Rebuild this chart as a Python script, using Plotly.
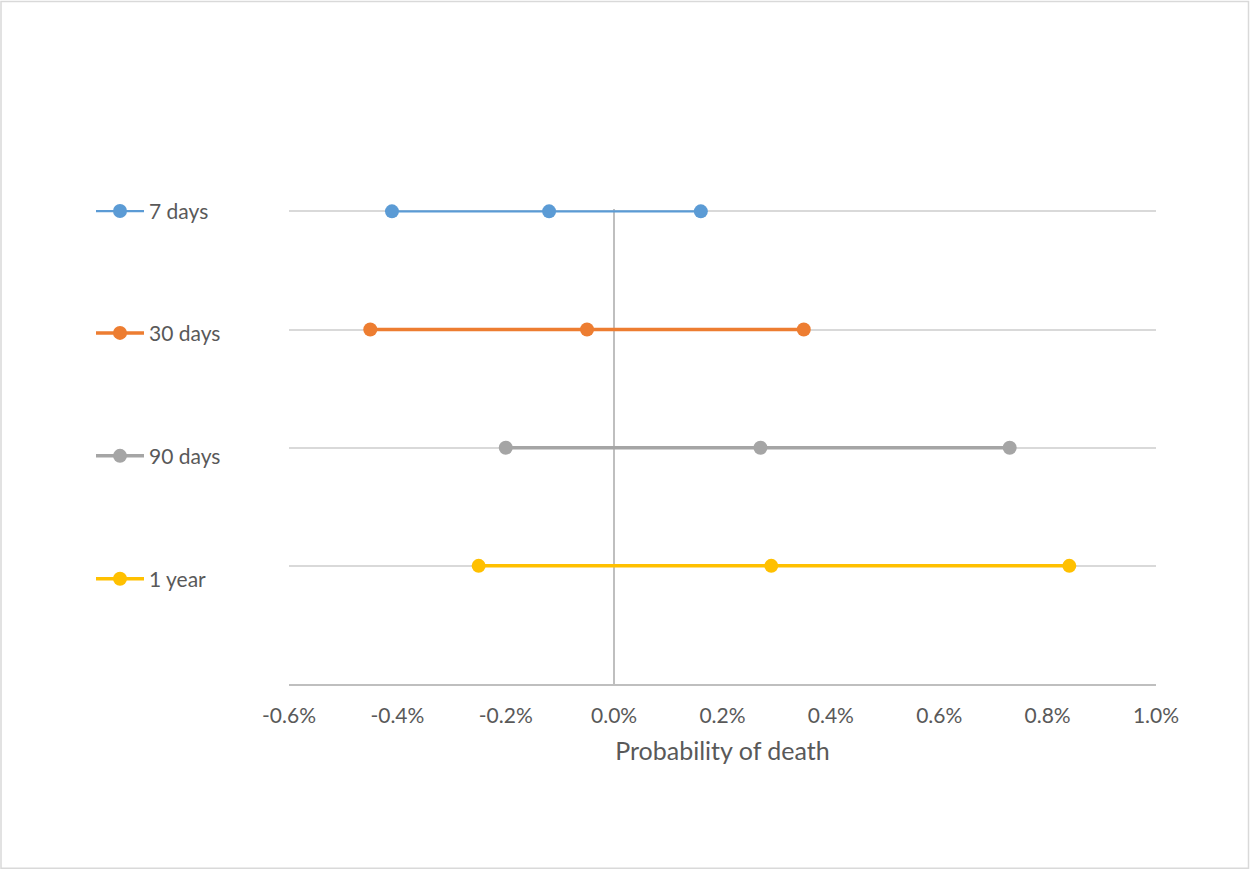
import plotly.graph_objects as go

series_names = ["7 days", "30 days", "90 days", "1 year"]
series_y = [4, 3, 2, 1]
series_x = [
    [-0.41, -0.12, 0.16],
    [-0.45, -0.05, 0.35],
    [-0.20, 0.27, 0.73],
    [-0.25, 0.29, 0.84],
]
colors = ["#5B9BD5", "#ED7D31", "#A5A5A5", "#FFC000"]
line_widths = [2.25, 3.5, 3.5, 3.5]
tick_vals = [-0.6, -0.4, -0.2, 0.0, 0.2, 0.4, 0.6, 0.8, 1.0]
tick_text = ["-0.6%", "-0.4%", "-0.2%", "0.0%", "0.2%", "0.4%", "0.6%", "0.8%", "1.0%"]
x_title = "Probability of death"

W, H = 1250, 870
y_top = 4.02
L, R, B = 289, 94, 186
T = 684 - 473 * y_top / 4
pw, ph = W - L - R, H - T - B

def px_to_paper_x(px):
    return (px - L) / pw

def px_to_paper_y(py):
    return (H - B - py) / ph

legend_centers = [211, 333, 456, 579]

fig = go.Figure()
for i, name in enumerate(series_names):
    leg = "legend" if i == 0 else f"legend{i+1}"
    fig.add_trace(go.Scatter(
        x=series_x[i], y=[series_y[i]] * len(series_x[i]),
        mode="lines+markers", name=name,
        line=dict(color=colors[i], width=line_widths[i]),
        marker=dict(color=colors[i], size=14),
        cliponaxis=False, legend=leg,
    ))

font_color = "#595959"
legend_common = dict(
    xanchor="left", yanchor="middle", bgcolor="rgba(0,0,0,0)",
    font=dict(family="Lato", size=21, color=font_color),
    itemwidth=48, borderwidth=0,
)
layout_legends = {}
for i in range(4):
    key = "legend" if i == 0 else f"legend{i+1}"
    layout_legends[key] = dict(legend_common, x=px_to_paper_x(91),
                               y=px_to_paper_y(legend_centers[i]))

fig.update_layout(
    width=W, height=H,
    margin=dict(l=L, r=R, t=T, b=B, pad=0),
    paper_bgcolor="white", plot_bgcolor="white",
    font=dict(family="Lato", color=font_color),
    showlegend=True,
    xaxis=dict(
        range=[-0.6, 1.0], tickvals=tick_vals, ticktext=tick_text,
        showgrid=False, zeroline=True, zerolinecolor="#BFBFBF", zerolinewidth=1.5,
        showline=True, linecolor="#BFBFBF", linewidth=1.5,
        ticks="", ticklabelstandoff=12,
        tickfont=dict(family="Lato", size=21, color=font_color),
        title=dict(text=x_title, standoff=17,
                   font=dict(family="Lato", size=25, color=font_color)),
    ),
    yaxis=dict(
        range=[0, y_top], tickvals=[1, 2, 3, 4], showgrid=True,
        gridcolor="#D9D9D9", gridwidth=1.5,
        showticklabels=False, zeroline=False, showline=False, ticks="",
    ),
    shapes=[dict(type="rect", xref="paper", yref="paper",
                 x0=px_to_paper_x(1), x1=px_to_paper_x(1248.5),
                 y0=px_to_paper_y(868.5), y1=px_to_paper_y(1),
                 line=dict(color="#D9D9D9", width=1.5), layer="below")],
    **layout_legends,
)

fig.write_html("out.html", config={"displayModeBar": False},
               post_script="document.body.style.margin='0';document.body.style.overflow='hidden';")
